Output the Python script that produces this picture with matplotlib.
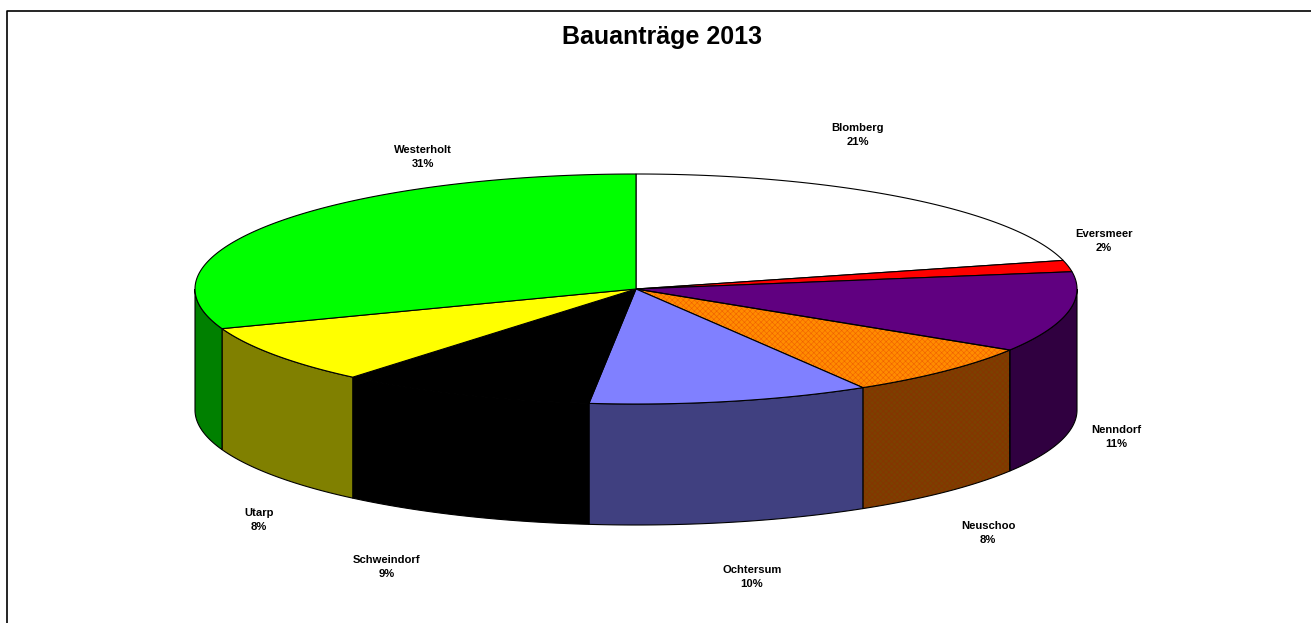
import numpy as np
import matplotlib
matplotlib.use('Agg')
import matplotlib.pyplot as plt
from matplotlib.patches import Polygon

plt.rcParams['font.family'] = ['Liberation Sans', 'DejaVu Sans']
plt.rcParams['hatch.linewidth'] = 0.4

names = ['Blomberg', 'Eversmeer', 'Nenndorf', 'Neuschoo', 'Ochtersum',
         'Schweindorf', 'Utarp', 'Westerholt']
values = [21.0, 1.6, 11.3, 7.5, 10.3, 9.4, 8.3, 30.6]
top_colors = ['#ffffff', '#ff0000', '#600080', '#ff8c00', '#8080ff',
              '#000000', '#ffff00', '#00ff00']
side_colors = ['#808080', '#800000', '#300040', '#7c4000', '#404080',
               '#000000', '#808000', '#008000']
label_pos = [(858, 135), (1104, 241), (1116, 437), (988, 533), (752, 577),
             (387, 567), (259, 520), (423, 157)]

# geometry of the pie in pixels
cx, cy = 636, 289
rx, ry = 441, 115
depth = 121


def rim(a0, a1):
    t = np.radians(np.linspace(a0, a1, max(int(abs(a1 - a0) * 2), 2)))
    return cx + rx * np.sin(t), cy - ry * np.cos(t)


fig = plt.figure(figsize=(13.11, 6.23), dpi=100)
ax = fig.add_axes([0, 0, 1, 1])
ax.set_xlim(0, 1311)
ax.set_ylim(623, 0)
ax.axis('off')

# frame runs off at the right and bottom
ax.plot([7, 7, 1311], [623, 11, 11], color='black', lw=1.2, solid_capstyle='butt')

shares = np.array(values) / sum(values) * 360
ends = np.cumsum(shares)
starts = ends - shares

# side walls first, only the front half shows
for a0, a1, col, name in zip(starts, ends, side_colors, names):
    lo, hi = max(a0, 90), min(a1, 270)
    if lo >= hi:
        continue
    x, y = rim(lo, hi)
    pts = np.r_[np.c_[x, y], np.c_[x[::-1], y[::-1] + depth]]
    if name == 'Neuschoo':
        ax.add_patch(Polygon(pts, closed=True, fc=col, ec='#8a3000', lw=0,
                             hatch='xxxxxx', zorder=1.9))
    ax.add_patch(Polygon(pts, closed=True, fc='none' if name == 'Neuschoo' else col,
                         ec='black', lw=0.8, zorder=2))

for a0, a1, col, name in zip(starts, ends, top_colors, names):
    x, y = rim(a0, a1)
    pts = np.r_[[[cx, cy]], np.c_[x, y]]
    if name == 'Neuschoo':
        ax.add_patch(Polygon(pts, closed=True, fc=col, ec='#f06000', lw=0,
                             hatch='xxxxxx', zorder=2.9))
    ax.add_patch(Polygon(pts, closed=True, fc='none' if name == 'Neuschoo' else col,
                         ec='black', lw=0.8, zorder=3))

for name, val, (lx, ly) in zip(names, values, label_pos):
    pct = int(np.floor(val / sum(values) * 100 + 0.5))
    ax.text(lx, ly, f'{name}\n{pct}%', ha='center', va='center', fontsize=8.1,
            fontweight='bold', linespacing=1.6, zorder=5)

ax.text(662.5, 37, 'Bauanträge 2013', ha='center', va='center', fontsize=18,
        fontweight='bold', zorder=5)

fig.savefig('out.png', dpi=100)
